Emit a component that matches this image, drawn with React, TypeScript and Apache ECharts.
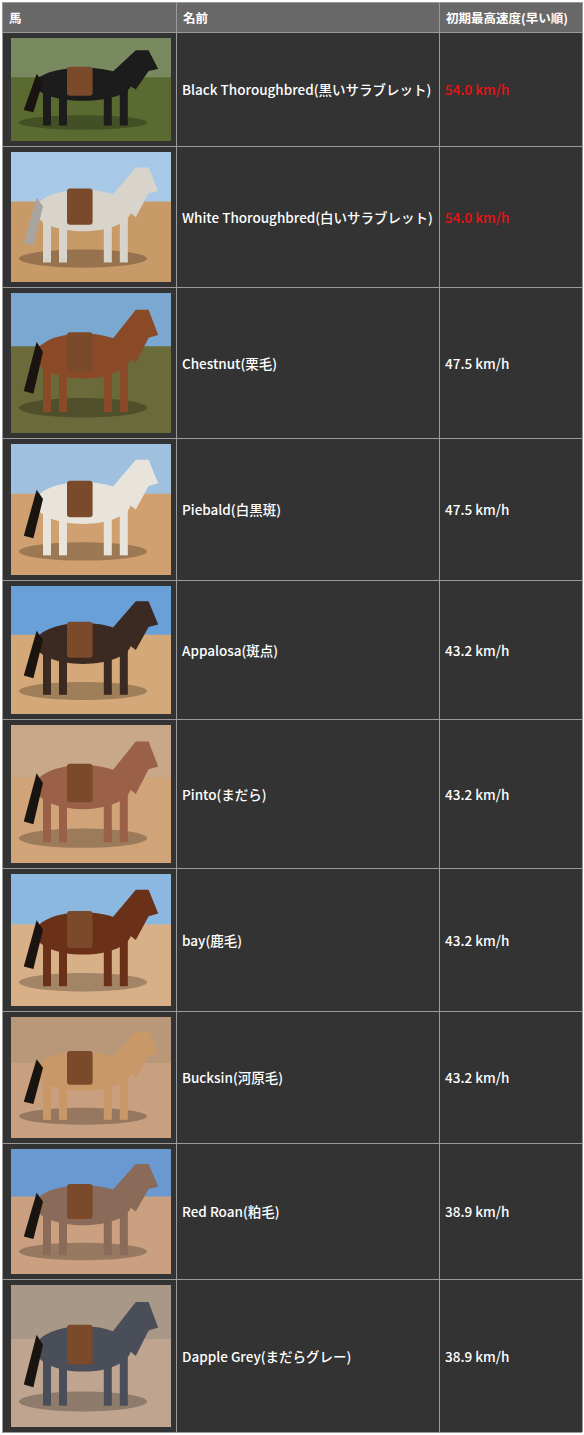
import { useEffect, useRef } from 'react'
import * as echarts from 'echarts'

const headers = ['馬', '名前', '初期最高速度(早い順)']
const names = [
  'Black Thoroughbred(黒いサラブレット)',
  'White Thoroughbred(白いサラブレット)',
  'Chestnut(栗毛)',
  'Piebald(白黒斑)',
  'Appalosa(斑点)',
  'Pinto(まだら)',
  'bay(鹿毛)',
  'Bucksin(河原毛)',
  'Red Roan(粕毛)',
  'Dapple Grey(まだらグレー)',
]
const speeds = ['54.0 km/h', '54.0 km/h', '47.5 km/h', '47.5 km/h', '43.2 km/h', '43.2 km/h', '43.2 km/h', '43.2 km/h', '38.9 km/h', '38.9 km/h']
const highlight = [true, true, false, false, false, false, false, false, false, false]
// row bottom edges in page pixels
const rowEdges = [32, 146, 287, 438, 580, 719, 868, 1011, 1143, 1279, 1432]
const colEdges = [2, 176, 439, 582]
const horseColors = ['#1c1c1c', '#d8d4cc', '#8a4a28', '#e8e4dc', '#3a2a22', '#9a6048', '#6a3018', '#c89868', '#8a6a58', '#4a4e58']
const groundColors = ['#5a6a30', '#c89a68', '#6a6a3a', '#d0a070', '#d4a878', '#d0a478', '#d8b088', '#c8a080', '#caa080', '#bfa590']
const skyColors = ['#7a8a60', '#a8c8e8', '#7aa8d0', '#a0c0e0', '#6aa0d8', '#c8a888', '#8ab8e0', '#b89878', '#6a98d0', '#a89888']

function horse(x: number, y: number, w: number, h: number, i: number) {
  const c = horseColors[i]
  const els: any[] = [
    { type: 'rect', shape: { x, y, width: w, height: h }, style: { fill: groundColors[i] } },
    { type: 'rect', shape: { x, y, width: w, height: h * 0.38 }, style: { fill: skyColors[i] } },
    { type: 'ellipse', shape: { cx: x + w * 0.45, cy: y + h * 0.82, rx: w * 0.4, ry: h * 0.07 }, style: { fill: 'rgba(0,0,0,0.25)' } },
  ]
  const legs = [0.2, 0.3, 0.58, 0.68]
  legs.forEach((lx) => {
    els.push({ type: 'rect', shape: { x: x + w * lx, y: y + h * 0.5, width: w * 0.05, height: h * 0.35 }, style: { fill: c } })
  })
  els.push(
    { type: 'ellipse', shape: { cx: x + w * 0.45, cy: y + h * 0.45, rx: w * 0.3, ry: h * 0.16 }, style: { fill: c } },
    {
      type: 'polygon',
      shape: { points: [[x + w * 0.62, y + h * 0.35], [x + w * 0.78, y + h * 0.12], [x + w * 0.86, y + h * 0.12], [x + w * 0.92, y + h * 0.3], [x + w * 0.86, y + h * 0.32], [x + w * 0.78, y + h * 0.5]] },
      style: { fill: c },
    },
    { type: 'polygon', shape: { points: [[x + w * 0.16, y + h * 0.35], [x + w * 0.08, y + h * 0.7], [x + w * 0.14, y + h * 0.72], [x + w * 0.2, y + h * 0.42]] }, style: { fill: i === 1 ? '#a8a4a0' : '#1a1410' } },
    { type: 'rect', shape: { x: x + w * 0.35, y: y + h * 0.28, width: w * 0.16, height: h * 0.28, r: 3 }, style: { fill: '#7a4a2a' } },
  )
  return els
}

export default function App() {
  const ref = useRef<HTMLDivElement>(null)
  useEffect(() => {
    if (!ref.current) return
    const chart = echarts.init(ref.current, null, { renderer: 'svg' })
    const font = '"Noto Sans CJK JP", "DejaVu Sans", sans-serif'
    const g: any[] = []
    const top = 2
    const left = colEdges[0]
    const right = colEdges[3]
    const bottom = rowEdges[rowEdges.length - 1]
    g.push({ type: 'rect', shape: { x: left, y: top, width: right - left, height: bottom - top }, style: { fill: '#333333' } })
    g.push({ type: 'rect', shape: { x: left, y: top, width: right - left, height: rowEdges[0] - top }, style: { fill: '#686868' } })
    headers.forEach((h, c) => {
      g.push({ type: 'text', x: colEdges[c] + 7, y: (top + rowEdges[0]) / 2, style: { text: h, fill: '#fff', font: `bold 12.5px ${font}`, verticalAlign: 'middle' } })
    })
    names.forEach((n, i) => {
      const y0 = rowEdges[i]
      const y1 = rowEdges[i + 1]
      const cy = (y0 + y1) / 2
      g.push(...horse(11, y0 + 6, 160, y1 - y0 - 11, i))
      g.push({ type: 'text', x: colEdges[1] + 6, y: cy, style: { text: n, fill: '#fff', font: `500 13.5px ${font}`, verticalAlign: 'middle' } })
      g.push({ type: 'text', x: colEdges[2] + 6, y: cy, style: { text: speeds[i], fill: highlight[i] ? '#ee1111' : '#fff', font: `500 13.5px ${font}`, verticalAlign: 'middle' } })
    })
    const line = { stroke: '#9a9a9a', lineWidth: 1 }
    ;[top, ...rowEdges].forEach((y) => g.push({ type: 'line', shape: { x1: left, y1: y + 0.5, x2: right, y2: y + 0.5 }, style: line }))
    colEdges.forEach((x) => g.push({ type: 'line', shape: { x1: x + 0.5, y1: top, x2: x + 0.5, y2: bottom }, style: line }))
    chart.setOption({ animation: false, graphic: { elements: g } })
    return () => chart.dispose()
  }, [])
  return <div ref={ref} style={{ width: 584, height: 1435, position: 'absolute', left: 0, top: 0 }} />
}
